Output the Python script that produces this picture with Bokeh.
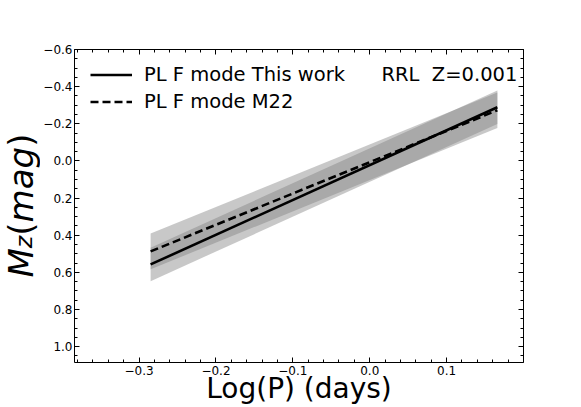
import numpy as np
from bokeh.plotting import figure
from bokeh.layouts import row
from bokeh.models import (Range1d, LinearAxis, FixedTicker, Label, Legend, LegendItem,
                          CustomLabelingPolicy)
from bokeh.embed import file_html
from bokeh.resources import INLINE

# ---- data ----
logP = [-0.285, 0.166]
mag_this_work = [0.557, -0.289]
mag_m22 = [0.487, -0.273]
sigma_this_work = 0.09
sigma_m22 = 0.096

x_ticks = [-0.3, -0.2, -0.1, 0.0, 0.1]
x_tick_labels = ["\u22120.3", "\u22120.2", "\u22120.1", "0.0", "0.1"]
y_ticks = [-0.6, -0.4, -0.2, 0.0, 0.2, 0.4, 0.6, 0.8, 1.0]
y_tick_labels = ["\u22120.6", "\u22120.4", "\u22120.2", "0.0", "0.2", "0.4", "0.6", "0.8", "1.0"]
x_minor = [round(-0.38 + 0.02 * i, 2) for i in range(30)]
y_minor = [round(-0.6 + 0.05 * i, 2) for i in range(34)]

legend_labels = ["PL F mode This work", "PL F mode M22"]
annotation = "RRL\u00a0\u00a0Z=0.001"
x_title = "Log(P) (days)"

FONT = "DejaVu Sans"
LEFT_W = 40

p = figure(width=581 - LEFT_W, height=407, output_backend="svg", toolbar_location=None,
           x_range=Range1d(-0.384, 0.2), y_range=Range1d(1.085, -0.6),
           min_border_left=72 - LEFT_W, min_border_right=58, min_border_top=49, min_border_bottom=45,
           background_fill_color="white", border_fill_color="white")
p.xgrid.visible = False
p.ygrid.visible = False
p.outline_line_color = "black"
p.outline_line_width = 1

x = np.array(logP)
a = np.array(mag_this_work)
b = np.array(mag_m22)

p.varea(x=x, y1=a - sigma_this_work, y2=a + sigma_this_work, fill_color="gray", fill_alpha=0.43)
p.varea(x=x, y1=b - sigma_m22, y2=b + sigma_m22, fill_color="gray", fill_alpha=0.43)
r1 = p.line(x, a, line_color="black", line_width=2.6)
r2 = p.line(x, b, line_color="black", line_width=2.6, line_dash="8 4")

xt = FixedTicker(ticks=x_ticks, minor_ticks=x_minor)
yt = FixedTicker(ticks=y_ticks, minor_ticks=y_minor)


def style(ax, ticker, labels=None, standoff=3):
    ax.ticker = ticker
    ax.axis_line_color = None
    ax.major_tick_in = 5
    ax.major_tick_out = 0
    ax.minor_tick_in = 3
    ax.minor_tick_out = 0
    ax.major_tick_line_color = "black"
    ax.minor_tick_line_color = "black"
    if labels is None:
        ax.major_label_policy = CustomLabelingPolicy(
            code="for (const i of indices) { indices.unset(i) }; return indices")
        ax.major_label_standoff = 0
    else:
        ax.major_label_overrides = labels
        ax.major_label_text_font = FONT
        ax.major_label_text_font_size = "12px"
        ax.major_label_text_color = "black"
        ax.major_label_standoff = standoff


bottom = p.xaxis[0]
left = p.yaxis[0]
style(bottom, xt, dict(zip(x_ticks, x_tick_labels)), 3)
style(left, yt, dict(zip(y_ticks, y_tick_labels)), 2)
top = LinearAxis()
right = LinearAxis()
style(top, xt)
style(right, yt)
p.add_layout(top, "above")
p.add_layout(right, "right")

bottom.axis_label = x_title
bottom.axis_label_text_font = FONT
bottom.axis_label_text_font_size = "28px"
bottom.axis_label_text_font_style = "normal"
bottom.axis_label_text_color = "black"
bottom.axis_label_standoff = -6

legend = Legend(items=[LegendItem(label=legend_labels[0], renderers=[r1]),
                       LegendItem(label=legend_labels[1], renderers=[r2])],
                location=(16, 247), padding=0, margin=0, spacing=0,
                glyph_width=42, glyph_height=27, label_height=27, label_standoff=12,
                label_text_font=FONT, label_text_font_size="19.5px", label_text_color="black",
                border_line_color=None, background_fill_alpha=0)
p.add_layout(legend)

p.add_layout(Label(x=307, y=288, x_units="screen", y_units="screen", text=annotation,
                   text_font=FONT, text_font_size="19.5px", text_baseline="middle",
                   text_align="left", text_color="black"))

# ---- y axis title  M_z(mag), in a narrow side canvas ----
q = figure(width=LEFT_W, height=407, output_backend="svg", toolbar_location=None,
           x_range=Range1d(0, 1), y_range=Range1d(0, 1),
           x_axis_location=None, y_axis_location=None,
           min_border_left=0, min_border_right=0, min_border_top=0, min_border_bottom=0,
           background_fill_color="white", border_fill_color="white", outline_line_color=None)
q.xgrid.visible = False
q.ygrid.visible = False

ang = np.pi / 2
bx = 20
y0 = 85
pieces = [("M", 34, "italic", 0, 0.863),
          ("z", 23.8, "italic", 3, 0.525),
          ("(", 34, "normal", 0, 0.390),
          ("mag", 34, "italic", 0, 0.974 + 0.613 + 0.635),
          (")", 34, "normal", 0, 0.390)]
pos = y0
for txt, fs, st, drop, w in pieces:
    q.add_layout(Label(x=bx + drop, y=pos, x_units="screen", y_units="screen", text=txt,
                       angle=ang, text_font=FONT, text_font_size=f"{fs}px",
                       text_font_style=st, text_align="left", text_baseline="alphabetic",
                       text_color="black"))
    pos += w * fs

layout = row(q, p, spacing=0)
open("out.html", "w").write(file_html(layout, INLINE))
